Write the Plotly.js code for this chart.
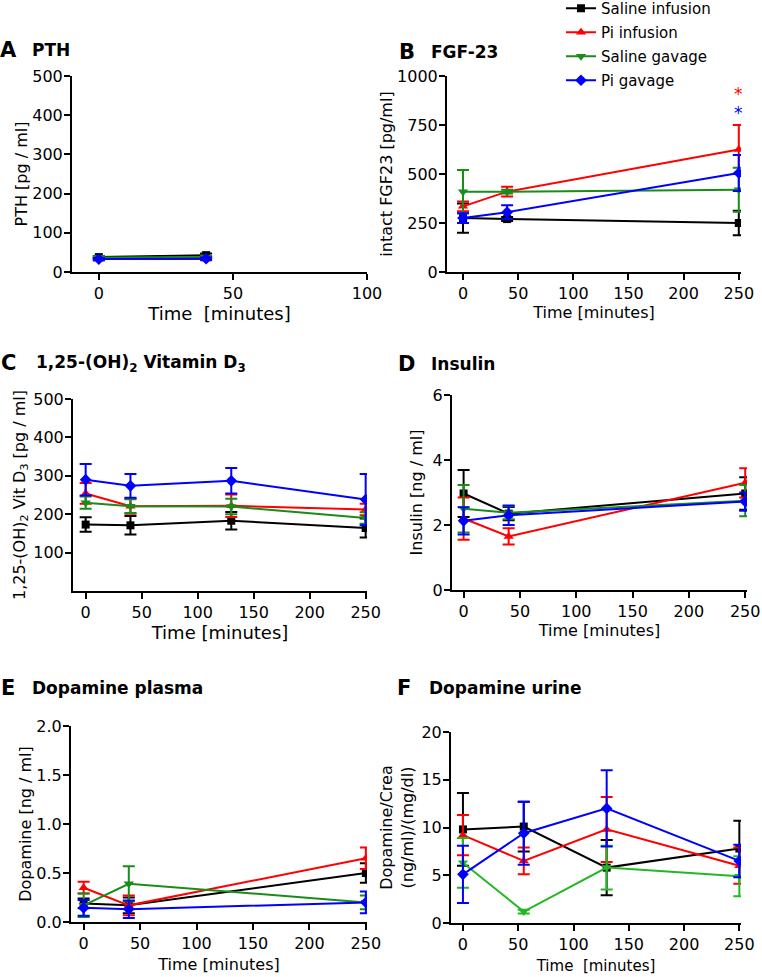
<!DOCTYPE html>
<html>
<head>
<meta charset="utf-8">
<script src="https://cdn.plot.ly/plotly-3.0.1.min.js"></script>
<style>html,body{margin:0;padding:0;background:#fff;}#chart{width:762px;height:977px;}</style>
</head>
<body>
<div id="chart"></div>
<script>
// ---------- data (group order: Saline infusion, Pi infusion, Saline gavage, Pi gavage) ----------
const groups = ['Saline infusion', 'Pi infusion', 'Saline gavage', 'Pi gavage'];

// A: PTH [pg/ml]
const pthTime = [0, 40];
const pthMean = [[38, 43], [33, 33], [37, 38], [33, 34]];
const pthErr  = [[3, 4], [3, 3], [3, 3], [3, 3]];

// B: intact FGF23 [pg/ml]
const fgfTime = [0, 40, 250];
const fgfMean = [[275, 270, 250], [335, 410, 625], [410, 410, 420], [275, 305, 505]];
const fgfErr  = [[75, 10, 62], [25, 25, 125], [110, 10, 112], [25, 35, 92]];
const fgfSigLabel = ['*', '*'];
const fgfSigY = [910, 810];
const fgfSigGroup = [1, 3];

// C: 1,25-(OH)2 Vit D3 [pg/ml]
const vitTime = [0, 40, 130, 250];
const vitMean = [[173, 171, 183, 164], [254, 221, 222, 212], [230, 221, 220, 190], [290, 274, 287, 238]];
const vitErr  = [[19, 24, 23, 25], [27, 20, 29, 15], [16, 18, 20, 15], [41, 31, 33, 67]];

// D: Insulin [ng/ml]
const insTime = [0, 40, 250];
const insMean = [[2.97, 2.35, 2.97], [2.2, 1.65, 3.3], [2.5, 2.38, 2.75], [2.13, 2.3, 2.72]];
const insErr  = [[0.72, 0.2, 0.5], [0.65, 0.25, 0.45], [0.73, 0.2, 0.48], [0.42, 0.3, 0.28]];

// E: Dopamine plasma [ng/ml]
const dpTime = [0, 40, 250];
const dpMean = [[0.19, 0.17, 0.5], [0.35, 0.17, 0.65], [0.17, 0.39, 0.2], [0.145, 0.13, 0.2]];
const dpErr  = [[0.05, 0.08, 0.1], [0.06, 0.1, 0.11], [0.12, 0.18, 0.07], [0.08, 0.09, 0.11]];

// F: Dopamine urine [(ng/ml)/(mg/dl)]
const duTime = [0, 55, 130, 250];
const duMean = [[9.8, 10.1, 5.8, 7.8], [9.2, 6.5, 9.8, 6.0], [6.3, 1.2, 5.8, 4.9], [5.1, 9.4, 12.0, 6.5]];
const duErr  = [[3.8, 2.6, 2.9, 2.9], [2.1, 1.4, 3.4, 1.9], [2.6, 0.2, 2.3, 2.1], [3.0, 3.3, 4.0, 1.7]];

// ---------- styles ----------
const FONT = 'DejaVu Sans, Arial, sans-serif';
const colorsMain = ['#000000', '#ff0000', '#1a8c1a', '#0000ff'];
const colorsF = ['#000000', '#ff0000', '#22b822', '#0000ff'];
const symbols = ['square', 'triangle-up', 'triangle-down', 'diamond'];
const sizes = [8, 9, 9, 9];

const W = 762, H = 977;
const dx = (a, b) => [a / W, b / W];
const dy = (top, bottom) => [1 - bottom / H, 1 - top / H];

const traces = [];
function addPanel(n, times, means, errs, colors, legend) {
  const sfx = n === 1 ? '' : String(n);
  for (let g = 0; g < groups.length; g++) {
    traces.push({
      type: 'scatter', mode: 'lines+markers',
      x: times, y: means[g], name: groups[g],
      xaxis: 'x' + sfx, yaxis: 'y' + sfx,
      legendgroup: 'g' + g, showlegend: !!legend,
      line: {color: colors[g], width: 2},
      marker: {color: colors[g], symbol: symbols[g], size: sizes[g]},
      error_y: {type: 'data', array: errs[g], visible: true, color: colors[g], thickness: 2, width: 6},
      hoverinfo: 'x+y+name'
    });
  }
}
addPanel(1, pthTime, pthMean, pthErr, colorsMain, false);
addPanel(2, fgfTime, fgfMean, fgfErr, colorsMain, true);
addPanel(3, vitTime, vitMean, vitErr, colorsMain, false);
addPanel(4, insTime, insMean, insErr, colorsMain, false);
addPanel(5, dpTime, dpMean, dpErr, colorsMain, false);
addPanel(6, duTime, duMean, duErr, colorsF, false);

function xax(n, domain, range, tickvals, title, titleSize, standoff) {
  return {
    anchor: n === 1 ? 'y' : 'y' + n,
    domain: domain, range: range, tickvals: tickvals, ticks: 'outside', ticklen: 6, tickwidth: 2,
    tickcolor: '#000', showline: true, linecolor: '#000', linewidth: 2, showgrid: false, zeroline: false,
    tickfont: {family: FONT, size: 16, color: '#000'},
    title: {text: title, font: {family: FONT, size: titleSize || 16, color: '#000'}, standoff: standoff},
    fixedrange: true
  };
}
function yax(n, domain, range, tickvals, title, standoff, fmt) {
  return {
    anchor: n === 1 ? 'x' : 'x' + n,
    domain: domain, range: range, tickvals: tickvals, ticks: 'outside', ticklen: 6, tickwidth: 2,
    ticklabelstandoff: -2,
    tickcolor: '#000', showline: true, linecolor: '#000', linewidth: 2, showgrid: false, zeroline: false,
    tickfont: {family: FONT, size: 16, color: '#000'}, tickformat: fmt || '',
    title: {text: title, font: {family: FONT, size: 16, color: '#000'}, standoff: standoff},
    fixedrange: true
  };
}

const annotations = [];
function panelTitle(letter, text, xLetter, xText, yc) {
  annotations.push({xref: 'paper', yref: 'paper', x: xLetter / W, y: 1 - yc / H, xanchor: 'left', yanchor: 'middle',
    text: '<b>' + letter + '</b>', showarrow: false, font: {family: FONT, size: 21, color: '#000'}});
  annotations.push({xref: 'paper', yref: 'paper', x: xText / W, y: 1 - yc / H, xanchor: 'left', yanchor: 'middle',
    text: '<b>' + text + '</b>', showarrow: false, font: {family: FONT, size: 17, color: '#000'}});
}
panelTitle('A', 'PTH', -2, 30, 50);
panelTitle('B', 'FGF-23', 397, 429, 52);
panelTitle('C', '1,25-(OH)<sub>2</sub> Vitamin D<sub>3</sub>', -1, 34, 363);
panelTitle('D', 'Insulin', 396, 429, 364);
panelTitle('E', 'Dopamine plasma', -1, 30, 688);
panelTitle('F', 'Dopamine urine', 395, 427, 688);

for (let i = 0; i < fgfSigLabel.length; i++) {
  annotations.push({xref: 'x2', yref: 'y2', x: fgfTime[fgfTime.length - 1], y: fgfSigY[i], text: fgfSigLabel[i],
    showarrow: false, font: {family: FONT, size: 17, color: colorsMain[fgfSigGroup[i]]}});
}

const layout = {
  width: W, height: H, autosize: false,
  margin: {l: 0, r: 0, t: 0, b: 0, autoexpand: false},
  paper_bgcolor: '#fff', plot_bgcolor: '#fff',
  font: {family: FONT, color: '#000'},
  showlegend: true,
  legend: {x: 561 / W, y: 1 + 8 / H, xanchor: 'left', yanchor: 'top', font: {family: FONT, size: 15, color: '#000'},
    tracegroupgap: 1.5, bgcolor: 'rgba(0,0,0,0)', traceorder: 'grouped'},
  xaxis:  xax(1, dx(72, 367),  [-10, 100],     [0, 50, 100], 'Time\u00A0 [minutes]', 18, 4),
  yaxis:  yax(1, dy(76, 272),  [0, 500],       [0, 100, 200, 300, 400, 500], 'PTH [pg / ml]', 1),
  xaxis2: xax(2, dx(447, 741), [-14.5, 252],   [0, 50, 100, 150, 200, 250], 'Time [minutes]', 16, 4),
  yaxis2: yax(2, dy(76, 272),  [0, 1000],      [0, 250, 500, 750, 1000], 'intact FGF23 [pg/ml]', 0),
  xaxis3: xax(3, dx(73, 367),  [-11.3, 251.2], [0, 50, 100, 150, 200, 250], 'Time [minutes]', 18, 4),
  yaxis3: yax(3, dy(399, 591), [0, 500],       [100, 200, 300, 400, 500], '1,25-(OH)<sub>2</sub> Vit D<sub>3</sub> [pg / ml]', 4),
  xaxis4: xax(4, dx(452, 747), [-10.3, 251.6], [0, 50, 100, 150, 200, 250], 'Time [minutes]', 16, 2),
  yaxis4: yax(4, dy(395, 590), [0, 6],         [0, 2, 4, 6], 'Insulin [ng / ml]', 6),
  xaxis5: xax(5, dx(71, 367),  [-11.2, 251],   [0, 50, 100, 150, 200, 250], 'Time [minutes]', 16, 7),
  yaxis5: yax(5, dy(726, 922), [0, 2],         [0, 0.5, 1, 1.5, 2], 'Dopamine [ng / ml]', 1, '.1f'),
  xaxis6: xax(6, dx(451, 741), [-10.8, 251.5], [0, 50, 100, 150, 200, 250], 'Time\u00A0 [minutes]', 15, 7),
  yaxis6: yax(6, dy(732, 923), [0, 20],        [0, 5, 10, 15, 20], 'Dopamine/Crea<br>(ng/ml)/(mg/dl)', 4),
  annotations: annotations
};

Plotly.newPlot('chart', traces, layout, {displayModeBar: false, staticPlot: true});
</script>
</body>
</html>
